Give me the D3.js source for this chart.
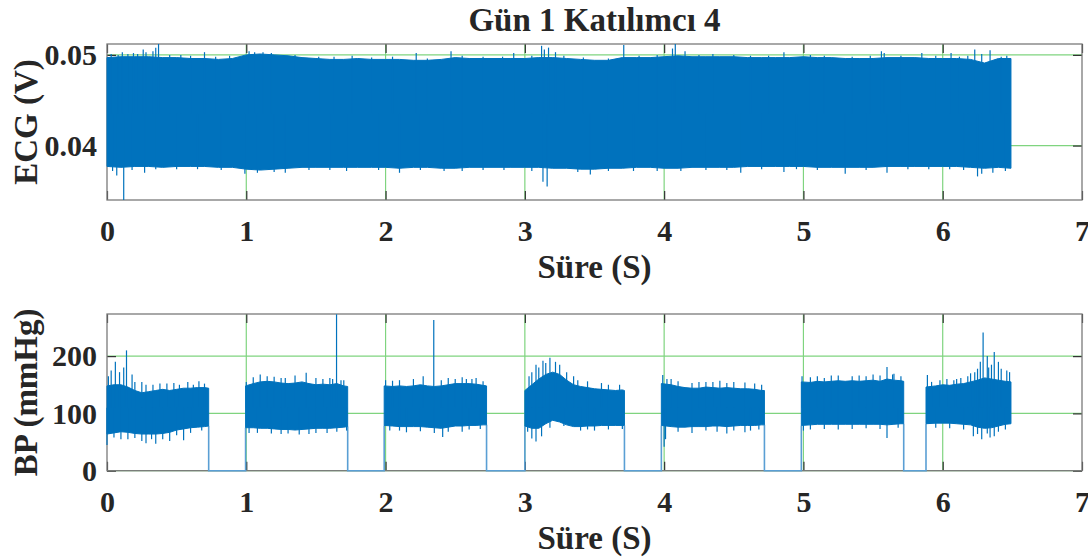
<!DOCTYPE html>
<html>
<head>
<meta charset="utf-8">
<script src="https://cdn.jsdelivr.net/npm/d3@7"></script>
<style>
  body { margin: 0; background: #fff; }
  text { font-family: "Liberation Serif", "Times New Roman", serif; font-weight: bold; fill: #262626; }
</style>
</head>
<body>
<script>
// ---- ECG envelope (V), every 0.1 s ----
var ecgTime = [0, 0.1, 0.2, 0.3, 0.4, 0.5, 0.6, 0.7, 0.8, 0.9, 1.0, 1.1, 1.2, 1.3, 1.4, 1.5, 1.6, 1.7, 1.8, 1.9,
    2.0, 2.1, 2.2, 2.3, 2.4, 2.5, 2.6, 2.7, 2.8, 2.9, 3.0, 3.1, 3.2, 3.3, 3.4, 3.5, 3.6, 3.7, 3.8, 3.9,
    4.0, 4.1, 4.2, 4.3, 4.4, 4.5, 4.6, 4.7, 4.8, 4.9, 5.0, 5.1, 5.2, 5.3, 5.4, 5.5, 5.6, 5.7, 5.8, 5.9,
    6.0, 6.1, 6.2, 6.3, 6.4, 6.49];
var ecgHigh = [0.0497, 0.0498, 0.0498, 0.0498, 0.0497, 0.0497, 0.0496, 0.0496, 0.0495, 0.0496,
    0.0500, 0.0501, 0.0500, 0.0499, 0.0497, 0.0496, 0.0495, 0.0495, 0.0496, 0.0495,
    0.0495, 0.0495, 0.0494, 0.0494, 0.0495, 0.0497, 0.0496, 0.0496, 0.0496, 0.0496,
    0.0496, 0.0497, 0.0497, 0.0496, 0.0495, 0.0494, 0.0494, 0.0497, 0.0497, 0.0497,
    0.0498, 0.0499, 0.0498, 0.0498, 0.0498, 0.0498, 0.0497, 0.0497, 0.0497, 0.0497,
    0.0498, 0.0497, 0.0497, 0.0496, 0.0496, 0.0496, 0.0497, 0.0497, 0.0497, 0.0496,
    0.0496, 0.0496, 0.0495, 0.0491, 0.0496, 0.0496];
var ecgLow = [0.0377, 0.0376, 0.0377, 0.0377, 0.0376, 0.0377, 0.0377, 0.0377, 0.0376, 0.0376,
    0.0374, 0.0373, 0.0374, 0.0375, 0.0376, 0.0376, 0.0376, 0.0376, 0.0376, 0.0376,
    0.0376, 0.0375, 0.0376, 0.0376, 0.0375, 0.0375, 0.0376, 0.0376, 0.0376, 0.0376,
    0.0376, 0.0376, 0.0375, 0.0375, 0.0374, 0.0374, 0.0375, 0.0375, 0.0376, 0.0376,
    0.0375, 0.0375, 0.0376, 0.0376, 0.0376, 0.0376, 0.0377, 0.0377, 0.0377, 0.0377,
    0.0377, 0.0376, 0.0376, 0.0376, 0.0376, 0.0376, 0.0377, 0.0377, 0.0377, 0.0377,
    0.0377, 0.0377, 0.0376, 0.0375, 0.0376, 0.0375];
// spikes sticking out of the band [time, value]
var ecgPeaks = [[0.03, 0.0501], [0.08, 0.0500], [0.11, 0.0503], [0.15, 0.0501], [0.19, 0.0502], [0.22, 0.0501],
    [0.26, 0.0506], [0.28, 0.0503], [0.33, 0.0504], [0.35, 0.0508], [0.37, 0.0512], [0.45, 0.0500],
    [0.53, 0.0500], [0.60, 0.0499], [0.70, 0.0503], [0.78, 0.0498], [0.88, 0.0499], [1.02, 0.0504],
    [1.06, 0.0503], [1.12, 0.0503], [1.18, 0.0502], [1.35, 0.0500], [1.52, 0.0498], [1.63, 0.0498],
    [1.76, 0.0499], [1.90, 0.0497], [2.05, 0.0498], [2.22, 0.0502], [2.30, 0.0496], [2.47, 0.0504],
    [2.55, 0.0499], [2.70, 0.0498], [2.84, 0.0498], [2.92, 0.0502], [3.05, 0.0499], [3.12, 0.0510],
    [3.14, 0.0506], [3.17, 0.0508], [3.22, 0.0503], [3.28, 0.0499], [3.42, 0.0497], [3.60, 0.0496],
    [3.71, 0.0511], [3.82, 0.0499], [3.95, 0.0500], [4.06, 0.0507], [4.08, 0.0512], [4.15, 0.0504],
    [4.25, 0.0500], [4.35, 0.0501], [4.50, 0.0500], [4.62, 0.0499], [4.75, 0.0499], [4.86, 0.0503],
    [5.05, 0.0500], [5.15, 0.0499], [5.35, 0.0498], [5.48, 0.0499], [5.56, 0.0504], [5.58, 0.0502],
    [5.70, 0.0499], [5.85, 0.0502], [5.95, 0.0499], [6.06, 0.0502], [6.12, 0.0498], [6.18, 0.0499],
    [6.23, 0.0506], [6.28, 0.0501], [6.34, 0.0505], [6.42, 0.0498], [6.46, 0.0499]];
var ecgDips = [[0.04, 0.0372], [0.07, 0.0367], [0.12, 0.0340], [0.18, 0.0373], [0.27, 0.0370], [0.35, 0.0374],
    [0.50, 0.0374], [0.65, 0.0374], [0.82, 0.0373], [0.99, 0.0369], [1.08, 0.0370], [1.20, 0.0371],
    [1.28, 0.0370], [1.45, 0.0373], [1.60, 0.0373], [1.72, 0.0372], [1.95, 0.0373], [2.10, 0.0370],
    [2.25, 0.0373], [2.42, 0.0372], [2.55, 0.0372], [2.70, 0.0373], [2.85, 0.0373], [3.05, 0.0372],
    [3.13, 0.0360], [3.16, 0.0355], [3.38, 0.0371], [3.47, 0.0368], [3.60, 0.0372], [3.78, 0.0372],
    [3.95, 0.0372], [4.12, 0.0372], [4.30, 0.0373], [4.45, 0.0373], [4.55, 0.0370], [4.70, 0.0374],
    [4.86, 0.0371], [4.95, 0.0374], [5.10, 0.0373], [5.30, 0.0369], [5.45, 0.0373], [5.60, 0.0370],
    [5.75, 0.0374], [5.90, 0.0374], [6.05, 0.0374], [6.15, 0.0373], [6.25, 0.0366], [6.28, 0.0369],
    [6.36, 0.0370], [6.45, 0.0372]];

// ---- BP envelope (mmHg), recorded in 7 blocks ----
var bpSegStart = [0, 0.995, 1.99, 3.0, 3.98, 4.985, 5.88];
var bpSegEnd = [0.73, 1.728, 2.725, 3.715, 4.72, 5.72, 6.49];
var bpTime = [0, 0.05, 0.1, 0.15, 0.2, 0.25, 0.3, 0.35, 0.4, 0.45, 0.5, 0.55, 0.6, 0.65, 0.7, 0.73,
    0.995, 1.05, 1.1, 1.15, 1.2, 1.25, 1.3, 1.35, 1.4, 1.45, 1.5, 1.55, 1.6, 1.65, 1.7, 1.728,
    1.99, 2.05, 2.1, 2.15, 2.2, 2.25, 2.3, 2.35, 2.4, 2.45, 2.5, 2.55, 2.6, 2.65, 2.7, 2.725,
    3.0, 3.05, 3.1, 3.15, 3.2, 3.25, 3.3, 3.35, 3.4, 3.45, 3.5, 3.55, 3.6, 3.65, 3.7, 3.715,
    3.98, 4.05, 4.1, 4.15, 4.2, 4.25, 4.3, 4.35, 4.4, 4.45, 4.5, 4.55, 4.6, 4.65, 4.7, 4.72,
    4.985, 5.05, 5.1, 5.15, 5.2, 5.25, 5.3, 5.35, 5.4, 5.45, 5.5, 5.55, 5.6, 5.65, 5.7, 5.72,
    5.88, 5.95, 6.0, 6.05, 6.1, 6.15, 6.2, 6.25, 6.3, 6.35, 6.4, 6.45, 6.49];
var bpHigh = [148, 150, 150, 146, 140, 136, 138, 140, 142, 140, 142, 144, 144, 145, 145, 144,
    148, 152, 155, 156, 155, 153, 152, 153, 155, 152, 150, 151, 150, 152, 148, 147,
    148, 147, 148, 147, 148, 150, 148, 147, 148, 150, 152, 152, 152, 151, 149, 148,
    140, 150, 160, 168, 172, 168, 158, 150, 147, 145, 143, 142, 141, 140, 141, 140,
    152, 150, 147, 145, 144, 144, 146, 145, 144, 145, 144, 143, 143, 142, 140, 140,
    155, 154, 156, 155, 156, 157, 156, 157, 156, 157, 158, 156, 160, 158, 157, 156,
    146, 148, 150, 149, 151, 152, 155, 158, 162, 160, 158, 156, 155];
var bpLow = [64, 66, 68, 67, 65, 64, 64, 64, 65, 67, 71, 73, 75, 76, 77, 78,
    75, 75, 74, 74, 73, 72, 72, 71, 72, 73, 74, 74, 74, 75, 76, 77,
    79, 78, 77, 77, 77, 77, 76, 75, 74, 76, 78, 78, 79, 79, 80, 80,
    78, 74, 74, 82, 88, 85, 80, 77, 77, 78, 78, 79, 79, 79, 79, 79,
    79, 77, 76, 76, 77, 77, 77, 78, 78, 77, 78, 79, 79, 79, 80, 80,
    79, 80, 81, 81, 81, 81, 81, 81, 81, 81, 81, 81, 80, 81, 82, 82,
    82, 83, 83, 83, 82, 81, 80, 76, 74, 75, 78, 81, 82];
var bpPeaks = [[0.01, 165], [0.03, 175], [0.06, 190], [0.09, 172], [0.12, 180], [0.14, 210], [0.18, 168],
    [0.2, 155], [0.25, 155], [0.28, 150], [0.33, 150], [0.38, 152], [0.43, 152], [0.48, 153], [0.52, 150],
    [0.58, 155], [0.62, 150], [0.66, 156], [0.7, 152],
    [1.0, 155], [1.05, 163], [1.1, 168], [1.15, 165], [1.2, 164], [1.25, 162], [1.28, 162], [1.35, 166],
    [1.43, 171], [1.5, 162], [1.55, 160], [1.6, 162], [1.62, 160], [1.648, 273], [1.68, 158], [1.7, 158],
    [2.0, 158], [2.05, 157], [2.1, 158], [2.2, 160], [2.27, 165], [2.346, 263], [2.4, 158], [2.45, 162],
    [2.5, 160], [2.55, 163], [2.58, 160], [2.62, 160], [2.65, 162], [2.7, 156],
    [3.03, 165], [3.05, 172], [3.08, 185], [3.1, 180], [3.13, 192], [3.15, 188], [3.18, 197], [3.22, 190],
    [3.25, 185], [3.3, 172], [3.35, 165], [3.38, 158], [3.45, 156], [3.55, 153], [3.6, 150], [3.68, 150],
    [3.99, 167], [4.02, 160], [4.05, 160], [4.1, 156], [4.2, 153], [4.25, 155], [4.3, 155], [4.35, 155],
    [4.4, 157], [4.45, 153], [4.5, 155], [4.58, 154], [4.65, 152], [4.7, 150],
    [4.99, 165], [5.05, 163], [5.1, 165], [5.15, 162], [5.2, 166], [5.25, 166], [5.35, 165], [5.4, 166],
    [5.45, 165], [5.5, 168], [5.55, 166], [5.6, 181], [5.64, 168], [5.65, 169], [5.7, 165],
    [5.89, 167], [5.92, 155], [5.98, 158], [6.03, 160], [6.08, 158], [6.1, 160], [6.13, 162], [6.18, 165],
    [6.2, 170], [6.23, 172], [6.25, 178], [6.27, 190], [6.29, 241], [6.32, 200], [6.33, 180], [6.35, 185],
    [6.37, 207], [6.4, 190], [6.42, 178], [6.46, 175], [6.48, 172]];
var bpDips = [[0.0, 45], [0.05, 58], [0.1, 55], [0.15, 55], [0.2, 57], [0.25, 52], [0.28, 48], [0.32, 55],
    [0.35, 47], [0.4, 55], [0.45, 52], [0.5, 62], [0.55, 53], [0.6, 66], [0.68, 70],
    [1.02, 66], [1.08, 66], [1.18, 65], [1.25, 64], [1.3, 65], [1.38, 63], [1.45, 64], [1.5, 66], [1.58, 66],
    [1.65, 68], [1.72, 70],
    [2.03, 70], [2.1, 70], [2.15, 67], [2.25, 69], [2.35, 66], [2.41, 59], [2.45, 68], [2.55, 68], [2.6, 72],
    [2.68, 73],
    [3.02, 68], [3.05, 56], [3.08, 51], [3.12, 60], [3.18, 75], [3.28, 78], [3.4, 70], [3.45, 72], [3.5, 70],
    [3.6, 72], [3.7, 73],
    [4.0, 42], [4.01, 55], [4.1, 68], [4.2, 66], [4.3, 70], [4.38, 68], [4.45, 65], [4.5, 70], [4.58, 67],
    [4.62, 70], [4.68, 72],
    [5.0, 70], [5.05, 72], [5.15, 73], [5.25, 72], [5.35, 73], [5.45, 74], [5.55, 73], [5.6, 57], [5.68, 75],
    [5.95, 75], [6.05, 74], [6.15, 72], [6.22, 60], [6.25, 64], [6.28, 55], [6.32, 65], [6.34, 58],
    [6.37, 60], [6.4, 68], [6.45, 72]];

var xTicks = [0, 1, 2, 3, 4, 5, 6, 7];
var ecgTicks = [0.04, 0.05];
var bpTicks = [0, 100, 200];

var lineColor = "#0072BD";
var gridColor = "#7fd47f";

var svg = d3.select("body").append("svg")
    .attr("width", 1088)
    .attr("height", 558);

svg.append("text")
    .attr("x", 594.5)
    .attr("y", 31)
    .attr("text-anchor", "middle")
    .style("font-size", "33px")
    .text("Gün 1 Katılımcı 4");

var left = 107, right = 1082;

function drawPanel(cfg) {
    var x = d3.scaleLinear().domain([0, 7]).range([left, right]);
    var y = d3.scaleLinear().domain(cfg.yDomain).range([cfg.bottom, cfg.top]);
    var h = cfg.bottom - cfg.top;
    var g = svg.append("g");

    // grid
    g.append("g").selectAll("line")
        .data(xTicks.slice(1, -1))
        .enter().append("line")
        .attr("x1", function (d) { return x(d); })
        .attr("x2", function (d) { return x(d); })
        .attr("y1", cfg.top).attr("y2", cfg.bottom)
        .attr("stroke", gridColor).attr("stroke-width", 1.2);
    g.append("g").selectAll("line")
        .data(cfg.yTicks)
        .enter().append("line")
        .attr("x1", left).attr("x2", right)
        .attr("y1", function (d) { return y(d); })
        .attr("y2", function (d) { return y(d); })
        .attr("stroke", gridColor).attr("stroke-width", 1.2);

    // axes, ticks pointing inwards (MATLAB style)
    var xb = g.append("g")
        .attr("transform", "translate(0," + cfg.bottom + ")")
        .call(d3.axisBottom(x).tickValues(xTicks).tickSizeInner(-9).tickSizeOuter(0).tickPadding(20)
            .tickFormat(d3.format("d")));
    var xt = g.append("g")
        .attr("transform", "translate(0," + cfg.top + ")")
        .call(d3.axisTop(x).tickValues(xTicks).tickSizeInner(-9).tickSizeOuter(0).tickFormat(""));
    var yl = g.append("g")
        .attr("transform", "translate(" + left + ",0)")
        .call(d3.axisLeft(y).tickValues(cfg.yTicks).tickSizeInner(-9).tickSizeOuter(0).tickPadding(10)
            .tickFormat(cfg.fmt));
    var yr = g.append("g")
        .attr("transform", "translate(" + right + ",0)")
        .call(d3.axisRight(y).tickValues(cfg.yTicks).tickSizeInner(-9).tickSizeOuter(0).tickFormat(""));

    [xb, xt, yl, yr].forEach(function (a) {
        a.select(".domain").remove();
        a.selectAll(".tick line").attr("stroke", "#333").attr("stroke-width", 1.2);
        a.selectAll("text").attr("font-family", null).attr("fill", null).style("font-size", "30px");
    });

    g.append("rect")
        .attr("x", left).attr("y", cfg.top)
        .attr("width", right - left).attr("height", h)
        .attr("fill", "none")
        .attr("stroke", "#7a7a7a")
        .attr("stroke-width", 1.3);

    var data = g.append("g");
    cfg.drawData(data, x, y);

    g.append("text")
        .attr("x", (left + right) / 2)
        .attr("y", cfg.xLabelY)
        .attr("text-anchor", "middle")
        .style("font-size", "33px")
        .text("Süre (S)");

    g.append("text")
        .attr("transform", "translate(37," + (cfg.top + h / 2) + ") rotate(-90)")
        .attr("text-anchor", "middle")
        .style("font-size", "33px")
        .text(cfg.yLabel);
}

function drawSpikes(sel, list, base, x, y) {
    sel.append("g").selectAll("line")
        .data(list)
        .enter().append("line")
        .attr("x1", function (d) { return x(d[0]); })
        .attr("x2", function (d) { return x(d[0]); })
        .attr("y1", function (d) { return y(base); })
        .attr("y2", function (d) { return y(d[1]); })
        .attr("stroke", lineColor)
        .attr("stroke-width", 1.2);
}

// top panel: ECG
drawPanel({
    top: 44, bottom: 200,
    yDomain: [0.034, 0.0512],
    yTicks: ecgTicks,
    fmt: d3.format(".2f"),
    yLabel: "ECG (V)",
    xLabelY: 278,
    drawData: function (sel, x, y) {
        var pts = ecgTime.map(function (t, i) { return { t: t, hi: ecgHigh[i], lo: ecgLow[i] }; });
        sel.append("path")
            .datum(pts)
            .attr("fill", lineColor)
            .attr("stroke", lineColor)
            .attr("stroke-width", 1)
            .attr("d", d3.area()
                .x(function (d) { return x(d.t); })
                .y0(function (d) { return y(d.lo); })
                .y1(function (d) { return y(d.hi); }));
        drawSpikes(sel, ecgPeaks, 0.0435, x, y);
        drawSpikes(sel, ecgDips, 0.0435, x, y);
    }
});

// bottom panel: BP
drawPanel({
    top: 314, bottom: 470.7,
    yDomain: [0, 273.5],
    yTicks: bpTicks,
    fmt: d3.format("d"),
    yLabel: "BP (mmHg)",
    xLabelY: 549,
    drawData: function (sel, x, y) {
        var pts = bpTime.map(function (t, i) { return { t: t, hi: bpHigh[i], lo: bpLow[i] }; });
        var area = d3.area()
            .x(function (d) { return x(d.t); })
            .y0(function (d) { return y(d.lo); })
            .y1(function (d) { return y(d.hi); });

        // flat zero stretches between the blocks
        var gaps = [];
        for (var i = 0; i < bpSegEnd.length - 1; i++) {
            gaps.push([[bpSegEnd[i], bpLow[bpTime.indexOf(bpSegEnd[i])]], [bpSegEnd[i], 0],
                [bpSegStart[i + 1], 0], [bpSegStart[i + 1], bpLow[bpTime.indexOf(bpSegStart[i + 1])]]]);
        }
        sel.append("g").selectAll("path")
            .data(gaps)
            .enter().append("path")
            .attr("fill", "none")
            .attr("stroke", "#5a9fd4")
            .attr("stroke-width", 1.6)
            .attr("d", d3.line()
                .x(function (d) { return x(d[0]); })
                .y(function (d) { return y(d[1]); }));

        bpSegStart.forEach(function (s, k) {
            var seg = pts.filter(function (d) { return d.t >= s && d.t <= bpSegEnd[k]; });
            sel.append("path")
                .datum(seg)
                .attr("fill", lineColor)
                .attr("stroke", lineColor)
                .attr("stroke-width", 1)
                .attr("d", area);
        });
        drawSpikes(sel, bpPeaks, 110, x, y);
        drawSpikes(sel, bpDips, 110, x, y);
    }
});
</script>
</body>
</html>
